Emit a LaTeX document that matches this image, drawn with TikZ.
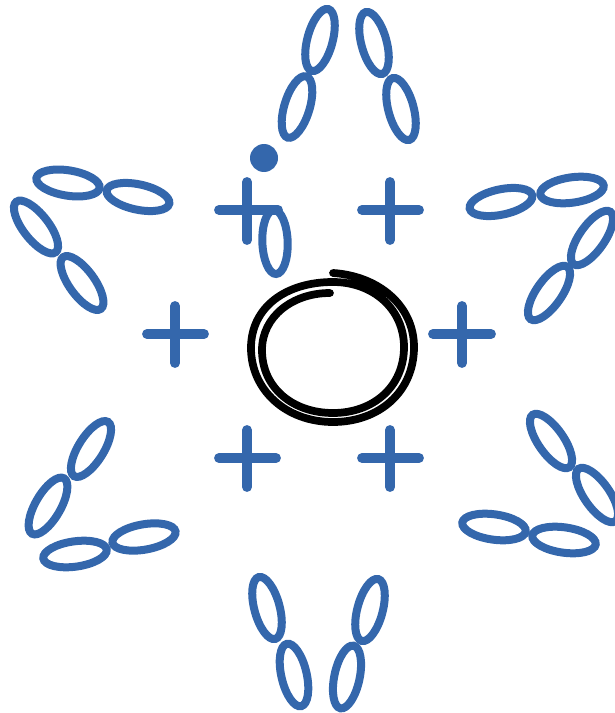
\documentclass[tikz,border=0pt]{standalone}
\usepackage{tikz}
\usetikzlibrary{shapes.geometric}
\definecolor{stitchblue}{RGB}{52,103,172}

\begin{document}
\begin{tikzpicture}[
	x=0.75pt,
	y=0.75pt,
	chainloop/.style={
		ellipse,
		draw=stitchblue,
		line width=6pt,
		inner sep=0pt,
		outer sep=0pt,
		minimum width=48pt,
		minimum height=19pt
	},
	crossbar/.style={
		draw=stitchblue,
		line width=7.4pt,
		line cap=round
	},
	ringline/.style={
		draw=black,
		line width=5.8pt,
		line cap=round
	},
	joindot/.style={
		circle,
		fill=stitchblue,
		inner sep=0pt,
		minimum size=21pt
	}
	]
	
	\useasboundingbox (0,0) rectangle (614,-713);
	
	% Centre ring
	\draw[ringline] (333,-273) .. controls (379,-276) and (414,-306) .. (414,-347)
		.. controls (414,-392) and (379,-422) .. (333,-422)
		.. controls (286,-422) and (251,-390) .. (251,-348)
		.. controls (251,-307) and (286,-282) .. (333,-282)
		.. controls (373,-282) and (404,-309) .. (404,-347)
		.. controls (404,-387) and (373,-413) .. (333,-413)
		.. controls (293,-413) and (262,-388) .. (262,-350)
		.. controls (262,-317) and (292,-293) .. (330,-293);
	
	% Crosses
	\draw[crossbar] (219,-210) -- (278,-210);
	\draw[crossbar] (247,-182) -- (247,-240);
	\draw[crossbar] (362,-210) -- (419,-210);
	\draw[crossbar] (390,-182) -- (390,-240);
	\draw[crossbar] (147,-334) -- (204,-334);
	\draw[crossbar] (175,-306) -- (175,-363);
	\draw[crossbar] (433,-334) -- (491,-334);
	\draw[crossbar] (462,-306) -- (462,-363);
	\draw[crossbar] (219,-458) -- (276,-458);
	\draw[crossbar] (247,-430) -- (247,-487);
	\draw[crossbar] (362,-458) -- (419,-458);
	\draw[crossbar] (390,-430) -- (390,-487);
	
	% Start of round
	\node[joindot] (startdot) at (264,-158) {};
	\node[chainloop, rotate=92] (startloop) at (275,-242) {};
	
	% Top petal
	\node[chainloop, rotate=75] (topa) at (320,-40) {};
	\node[chainloop, rotate=73] (topb) at (297,-107) {};
	\node[chainloop, rotate=105] (topc) at (374,-43) {};
	\node[chainloop, rotate=105] (topd) at (401,-109) {};
	
	% Upper left petal
	\node[chainloop, rotate=-9] (ulefta) at (68,-183) {};
	\node[chainloop, rotate=-12] (uleftb) at (138,-197) {};
	\node[chainloop, rotate=128] (uleftc) at (36,-227) {};
	\node[chainloop, rotate=126] (uleftd) at (82,-283) {};
	
	% Upper right petal
	\node[chainloop, rotate=12] (urighta) at (501,-202) {};
	\node[chainloop, rotate=8] (urightb) at (572,-190) {};
	\node[chainloop, rotate=55] (urightc) at (592,-238) {};
	\node[chainloop, rotate=55] (urightd) at (549,-293) {};
	
	% Lower left petal
	\node[chainloop, rotate=58] (llefta) at (91,-449) {};
	\node[chainloop, rotate=60] (lleftb) at (48,-506) {};
	\node[chainloop, rotate=8] (lleftc) at (75,-554) {};
	\node[chainloop, rotate=10] (lleftd) at (144,-537) {};
	
	% Lower right petal
	\node[chainloop, rotate=125] (lrighta) at (551,-441) {};
	\node[chainloop, rotate=125] (lrightb) at (597,-495) {};
	\node[chainloop, rotate=-8] (lrightc) at (494,-527) {};
	\node[chainloop, rotate=-8] (lrightd) at (564,-540) {};
	
	% Bottom petal
	\node[chainloop, rotate=105] (bota) at (267,-608) {};
	\node[chainloop, rotate=103] (botb) at (294,-675) {};
	\node[chainloop, rotate=75] (botc) at (370,-610) {};
	\node[chainloop, rotate=78] (botd) at (347,-677) {};
	
\end{tikzpicture}
\end{document}
